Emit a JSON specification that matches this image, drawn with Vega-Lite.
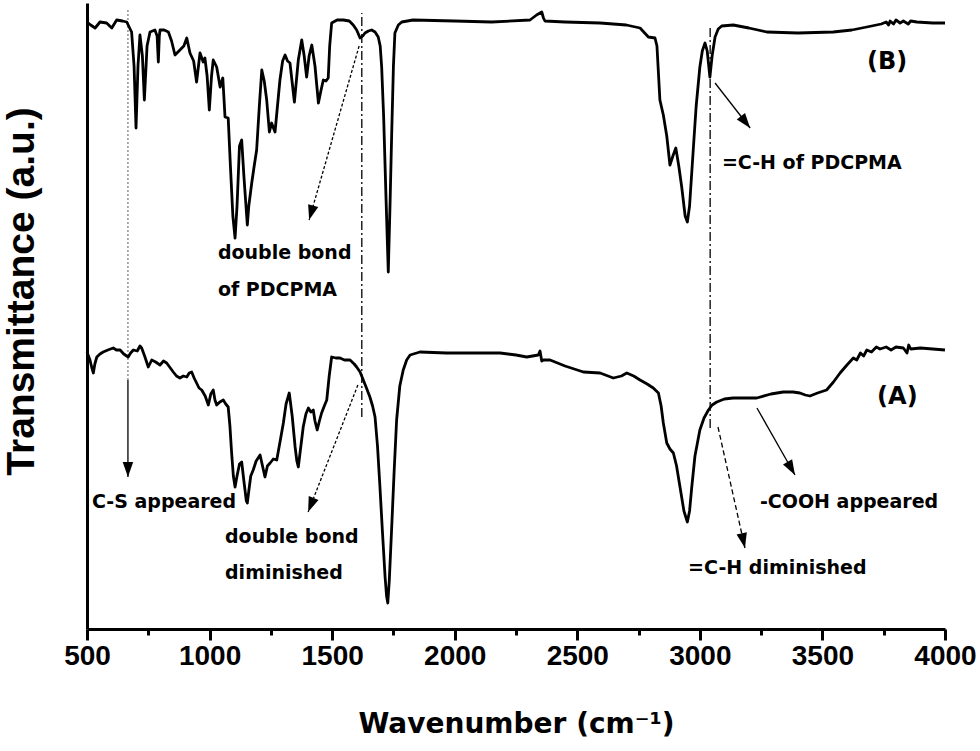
{
  "$schema": "https://vega.github.io/schema/vega-lite/v6.json",
  "width": 858,
  "height": 626,
  "autosize": {"type": "none"},
  "padding": {"left": 87, "top": 3, "right": 35, "bottom": 122},
  "background": "white",
  "config": {"view": {"stroke": null}, "axis": {"grid": false}},
  "resolve": {"axis": {"x": "independent"}},
  "datasets": {
    "spectra": [
      {"series":"B","wn":500,"tr":604},{"series":"B","wn":515,"tr":601},{"series":"B","wn":533,"tr":598},{"series":"B","wn":553,"tr":604},{"series":"B","wn":580,"tr":603},{"series":"B","wn":601,"tr":598},{"series":"B","wn":621,"tr":606},{"series":"B","wn":645,"tr":605},{"series":"B","wn":662,"tr":604},{"series":"B","wn":682,"tr":594},{"series":"B","wn":692,"tr":560},{"series":"B","wn":700,"tr":498},{"series":"B","wn":708,"tr":560},{"series":"B","wn":716,"tr":591},{"series":"B","wn":726,"tr":570},{"series":"B","wn":734,"tr":526},{"series":"B","wn":745,"tr":580},{"series":"B","wn":757,"tr":594},{"series":"B","wn":777,"tr":596},{"series":"B","wn":786,"tr":590},{"series":"B","wn":791,"tr":564},{"series":"B","wn":795,"tr":590},{"series":"B","wn":798,"tr":596},{"series":"B","wn":815,"tr":596},{"series":"B","wn":832,"tr":594},{"series":"B","wn":845,"tr":585},{"series":"B","wn":859,"tr":571},{"series":"B","wn":879,"tr":576},{"series":"B","wn":895,"tr":580},{"series":"B","wn":907,"tr":588},{"series":"B","wn":920,"tr":573},{"series":"B","wn":935,"tr":565},{"series":"B","wn":947,"tr":544},{"series":"B","wn":961,"tr":573},{"series":"B","wn":974,"tr":564},{"series":"B","wn":981,"tr":568},{"series":"B","wn":990,"tr":550},{"series":"B","wn":999,"tr":516},{"series":"B","wn":1008,"tr":550},{"series":"B","wn":1015,"tr":566},{"series":"B","wn":1029,"tr":559},{"series":"B","wn":1043,"tr":539},{"series":"B","wn":1054,"tr":548},{"series":"B","wn":1063,"tr":509},{"series":"B","wn":1076,"tr":508},{"series":"B","wn":1085,"tr":460},{"series":"B","wn":1095,"tr":410},{"series":"B","wn":1104,"tr":388},{"series":"B","wn":1112,"tr":420},{"series":"B","wn":1122,"tr":480},{"series":"B","wn":1131,"tr":486},{"series":"B","wn":1140,"tr":450},{"series":"B","wn":1154,"tr":401},{"series":"B","wn":1160,"tr":420},{"series":"B","wn":1172,"tr":443},{"series":"B","wn":1182,"tr":460},{"series":"B","wn":1192,"tr":476},{"series":"B","wn":1203,"tr":520},{"series":"B","wn":1213,"tr":556},{"series":"B","wn":1223,"tr":545},{"series":"B","wn":1233,"tr":526},{"series":"B","wn":1244,"tr":494},{"series":"B","wn":1253,"tr":503},{"series":"B","wn":1267,"tr":494},{"series":"B","wn":1277,"tr":520},{"series":"B","wn":1287,"tr":546},{"series":"B","wn":1298,"tr":565},{"series":"B","wn":1308,"tr":571},{"series":"B","wn":1318,"tr":565},{"series":"B","wn":1328,"tr":563},{"series":"B","wn":1346,"tr":524},{"series":"B","wn":1362,"tr":566},{"series":"B","wn":1376,"tr":586},{"series":"B","wn":1386,"tr":570},{"series":"B","wn":1396,"tr":549},{"series":"B","wn":1406,"tr":570},{"series":"B","wn":1417,"tr":581},{"series":"B","wn":1430,"tr":560},{"series":"B","wn":1444,"tr":523},{"series":"B","wn":1454,"tr":535},{"series":"B","wn":1464,"tr":546},{"series":"B","wn":1475,"tr":545},{"series":"B","wn":1484,"tr":548},{"series":"B","wn":1490,"tr":580},{"series":"B","wn":1498,"tr":603},{"series":"B","wn":1520,"tr":606},{"series":"B","wn":1546,"tr":606},{"series":"B","wn":1570,"tr":605},{"series":"B","wn":1586,"tr":601},{"series":"B","wn":1600,"tr":596},{"series":"B","wn":1614,"tr":588},{"series":"B","wn":1625,"tr":590},{"series":"B","wn":1634,"tr":593},{"series":"B","wn":1648,"tr":595},{"series":"B","wn":1661,"tr":596},{"series":"B","wn":1675,"tr":594},{"series":"B","wn":1688,"tr":589},{"series":"B","wn":1696,"tr":580},{"series":"B","wn":1702,"tr":559},{"series":"B","wn":1710,"tr":510},{"series":"B","wn":1720,"tr":426},{"series":"B","wn":1729,"tr":354},{"series":"B","wn":1736,"tr":420},{"series":"B","wn":1743,"tr":493},{"series":"B","wn":1750,"tr":560},{"series":"B","wn":1756,"tr":593},{"series":"B","wn":1770,"tr":601},{"series":"B","wn":1784,"tr":604},{"series":"B","wn":1830,"tr":606},{"series":"B","wn":2000,"tr":605},{"series":"B","wn":2150,"tr":604},{"series":"B","wn":2307,"tr":606},{"series":"B","wn":2334,"tr":611},{"series":"B","wn":2355,"tr":614},{"series":"B","wn":2362,"tr":608},{"series":"B","wn":2368,"tr":605},{"series":"B","wn":2450,"tr":604},{"series":"B","wn":2593,"tr":603},{"series":"B","wn":2700,"tr":601},{"series":"B","wn":2756,"tr":598},{"series":"B","wn":2790,"tr":589},{"series":"B","wn":2817,"tr":588},{"series":"B","wn":2825,"tr":580},{"series":"B","wn":2837,"tr":526},{"series":"B","wn":2851,"tr":511},{"series":"B","wn":2865,"tr":490},{"series":"B","wn":2878,"tr":461},{"series":"B","wn":2890,"tr":470},{"series":"B","wn":2902,"tr":478},{"series":"B","wn":2914,"tr":460},{"series":"B","wn":2926,"tr":439},{"series":"B","wn":2940,"tr":410},{"series":"B","wn":2949,"tr":404},{"series":"B","wn":2958,"tr":420},{"series":"B","wn":2973,"tr":476},{"series":"B","wn":2985,"tr":520},{"series":"B","wn":3000,"tr":559},{"series":"B","wn":3010,"tr":575},{"series":"B","wn":3021,"tr":583},{"series":"B","wn":3030,"tr":575},{"series":"B","wn":3041,"tr":549},{"series":"B","wn":3050,"tr":570},{"series":"B","wn":3062,"tr":589},{"series":"B","wn":3075,"tr":597},{"series":"B","wn":3089,"tr":600},{"series":"B","wn":3136,"tr":601},{"series":"B","wn":3200,"tr":598},{"series":"B","wn":3273,"tr":594},{"series":"B","wn":3400,"tr":593},{"series":"B","wn":3544,"tr":594},{"series":"B","wn":3620,"tr":596},{"series":"B","wn":3681,"tr":599},{"series":"B","wn":3740,"tr":602},{"series":"B","wn":3760,"tr":604},{"series":"B","wn":3770,"tr":601},{"series":"B","wn":3776,"tr":605},{"series":"B","wn":3790,"tr":602},{"series":"B","wn":3800,"tr":606},{"series":"B","wn":3817,"tr":603},{"series":"B","wn":3830,"tr":605},{"series":"B","wn":3850,"tr":602},{"series":"B","wn":3860,"tr":605},{"series":"B","wn":3885,"tr":604},{"series":"B","wn":3950,"tr":603},{"series":"B","wn":4000,"tr":603},
      {"series":"A","wn":500,"tr":274},{"series":"A","wn":512,"tr":266},{"series":"A","wn":520,"tr":258},{"series":"A","wn":526,"tr":253},{"series":"A","wn":532,"tr":262},{"series":"A","wn":540,"tr":269},{"series":"A","wn":553,"tr":272},{"series":"A","wn":566,"tr":274},{"series":"A","wn":585,"tr":276},{"series":"A","wn":607,"tr":278},{"series":"A","wn":620,"tr":276},{"series":"A","wn":635,"tr":276},{"series":"A","wn":650,"tr":272},{"series":"A","wn":668,"tr":269},{"series":"A","wn":678,"tr":273},{"series":"A","wn":689,"tr":276},{"series":"A","wn":705,"tr":275},{"series":"A","wn":716,"tr":280},{"series":"A","wn":723,"tr":278},{"series":"A","wn":735,"tr":270},{"series":"A","wn":750,"tr":259},{"series":"A","wn":764,"tr":266},{"series":"A","wn":780,"tr":264},{"series":"A","wn":798,"tr":261},{"series":"A","wn":812,"tr":265},{"series":"A","wn":825,"tr":263},{"series":"A","wn":840,"tr":258},{"series":"A","wn":852,"tr":254},{"series":"A","wn":865,"tr":250},{"series":"A","wn":879,"tr":248},{"series":"A","wn":893,"tr":250},{"series":"A","wn":907,"tr":249},{"series":"A","wn":917,"tr":253},{"series":"A","wn":927,"tr":254},{"series":"A","wn":937,"tr":248},{"series":"A","wn":947,"tr":243},{"series":"A","wn":957,"tr":238},{"series":"A","wn":968,"tr":236},{"series":"A","wn":982,"tr":230},{"series":"A","wn":995,"tr":221},{"series":"A","wn":1005,"tr":232},{"series":"A","wn":1015,"tr":236},{"series":"A","wn":1022,"tr":226},{"series":"A","wn":1029,"tr":221},{"series":"A","wn":1042,"tr":224},{"series":"A","wn":1056,"tr":226},{"series":"A","wn":1066,"tr":222},{"series":"A","wn":1076,"tr":219},{"series":"A","wn":1083,"tr":200},{"series":"A","wn":1090,"tr":173},{"series":"A","wn":1097,"tr":150},{"series":"A","wn":1104,"tr":139},{"series":"A","wn":1112,"tr":150},{"series":"A","wn":1122,"tr":162},{"series":"A","wn":1131,"tr":164},{"series":"A","wn":1140,"tr":145},{"series":"A","wn":1150,"tr":125},{"series":"A","wn":1154,"tr":123},{"series":"A","wn":1160,"tr":135},{"series":"A","wn":1168,"tr":150},{"series":"A","wn":1178,"tr":156},{"series":"A","wn":1190,"tr":165},{"series":"A","wn":1206,"tr":171},{"series":"A","wn":1216,"tr":160},{"series":"A","wn":1226,"tr":149},{"series":"A","wn":1236,"tr":160},{"series":"A","wn":1247,"tr":163},{"series":"A","wn":1260,"tr":167},{"series":"A","wn":1274,"tr":166},{"series":"A","wn":1288,"tr":185},{"series":"A","wn":1301,"tr":203},{"series":"A","wn":1312,"tr":222},{"series":"A","wn":1325,"tr":233},{"series":"A","wn":1337,"tr":210},{"series":"A","wn":1349,"tr":179},{"series":"A","wn":1356,"tr":165},{"series":"A","wn":1362,"tr":159},{"series":"A","wn":1370,"tr":175},{"series":"A","wn":1382,"tr":199},{"series":"A","wn":1393,"tr":212},{"series":"A","wn":1403,"tr":218},{"series":"A","wn":1413,"tr":214},{"series":"A","wn":1423,"tr":216},{"series":"A","wn":1430,"tr":205},{"series":"A","wn":1439,"tr":196},{"series":"A","wn":1448,"tr":205},{"series":"A","wn":1457,"tr":213},{"series":"A","wn":1468,"tr":220},{"series":"A","wn":1478,"tr":226},{"series":"A","wn":1488,"tr":250},{"series":"A","wn":1498,"tr":269},{"series":"A","wn":1515,"tr":268},{"series":"A","wn":1532,"tr":268},{"series":"A","wn":1550,"tr":266},{"series":"A","wn":1573,"tr":266},{"series":"A","wn":1590,"tr":262},{"series":"A","wn":1600,"tr":259},{"series":"A","wn":1614,"tr":254},{"series":"A","wn":1627,"tr":246},{"series":"A","wn":1640,"tr":238},{"series":"A","wn":1654,"tr":229},{"series":"A","wn":1665,"tr":220},{"series":"A","wn":1675,"tr":209},{"series":"A","wn":1685,"tr":180},{"series":"A","wn":1695,"tr":139},{"series":"A","wn":1705,"tr":95},{"series":"A","wn":1716,"tr":49},{"series":"A","wn":1722,"tr":30},{"series":"A","wn":1727,"tr":23},{"series":"A","wn":1733,"tr":45},{"series":"A","wn":1743,"tr":99},{"series":"A","wn":1753,"tr":155},{"series":"A","wn":1763,"tr":206},{"series":"A","wn":1776,"tr":240},{"series":"A","wn":1790,"tr":256},{"series":"A","wn":1804,"tr":266},{"series":"A","wn":1818,"tr":271},{"series":"A","wn":1858,"tr":274},{"series":"A","wn":1967,"tr":273},{"series":"A","wn":2100,"tr":273},{"series":"A","wn":2185,"tr":273},{"series":"A","wn":2250,"tr":271},{"series":"A","wn":2294,"tr":269},{"series":"A","wn":2341,"tr":271},{"series":"A","wn":2348,"tr":275},{"series":"A","wn":2355,"tr":265},{"series":"A","wn":2362,"tr":266},{"series":"A","wn":2389,"tr":266},{"series":"A","wn":2450,"tr":260},{"series":"A","wn":2525,"tr":254},{"series":"A","wn":2593,"tr":253},{"series":"A","wn":2647,"tr":248},{"series":"A","wn":2680,"tr":250},{"series":"A","wn":2702,"tr":253},{"series":"A","wn":2730,"tr":250},{"series":"A","wn":2756,"tr":246},{"series":"A","wn":2785,"tr":242},{"series":"A","wn":2810,"tr":238},{"series":"A","wn":2831,"tr":233},{"series":"A","wn":2842,"tr":220},{"series":"A","wn":2851,"tr":203},{"series":"A","wn":2865,"tr":183},{"series":"A","wn":2878,"tr":177},{"series":"A","wn":2892,"tr":173},{"series":"A","wn":2905,"tr":160},{"series":"A","wn":2919,"tr":139},{"series":"A","wn":2935,"tr":115},{"series":"A","wn":2949,"tr":104},{"series":"A","wn":2958,"tr":115},{"series":"A","wn":2967,"tr":139},{"series":"A","wn":2980,"tr":170},{"series":"A","wn":3000,"tr":196},{"series":"A","wn":3017,"tr":208},{"series":"A","wn":3035,"tr":216},{"series":"A","wn":3050,"tr":221},{"series":"A","wn":3069,"tr":224},{"series":"A","wn":3100,"tr":227},{"series":"A","wn":3136,"tr":228},{"series":"A","wn":3190,"tr":228},{"series":"A","wn":3232,"tr":228},{"series":"A","wn":3290,"tr":232},{"series":"A","wn":3340,"tr":234},{"series":"A","wn":3380,"tr":234},{"series":"A","wn":3408,"tr":233},{"series":"A","wn":3430,"tr":231},{"series":"A","wn":3449,"tr":230},{"series":"A","wn":3480,"tr":233},{"series":"A","wn":3517,"tr":236},{"series":"A","wn":3545,"tr":244},{"series":"A","wn":3572,"tr":253},{"series":"A","wn":3600,"tr":261},{"series":"A","wn":3626,"tr":268},{"series":"A","wn":3640,"tr":266},{"series":"A","wn":3655,"tr":273},{"series":"A","wn":3668,"tr":270},{"series":"A","wn":3681,"tr":276},{"series":"A","wn":3700,"tr":274},{"series":"A","wn":3720,"tr":279},{"series":"A","wn":3735,"tr":277},{"series":"A","wn":3760,"tr":279},{"series":"A","wn":3780,"tr":276},{"series":"A","wn":3800,"tr":279},{"series":"A","wn":3830,"tr":278},{"series":"A","wn":3845,"tr":273},{"series":"A","wn":3852,"tr":281},{"series":"A","wn":3860,"tr":277},{"series":"A","wn":3900,"tr":278},{"series":"A","wn":3950,"tr":277},{"series":"A","wn":4000,"tr":276}
    ],
    "vlines": [
      {"kind":"dot","wn":667,"tr":246,"tr2":618},
      {"kind":"dashdot","wn":1621,"tr":209,"tr2":613},
      {"kind":"dashdot","wn":3042,"tr":198,"tr2":599}
    ],
    "arrows": [
      {"id":"b1","kind":"dotted","wn":1610,"tr":580,"wn2":1406,"tr2":406},
      {"id":"a1","kind":"dotted","wn":1605,"tr":241,"wn2":1402,"tr2":114},
      {"id":"b2","kind":"solid","wn":3062,"tr":543,"wn2":3205,"tr2":498},
      {"id":"a2","kind":"solid","wn":3233,"tr":218,"wn2":3388,"tr2":151},
      {"id":"a3","kind":"dashed","wn":3074,"tr":199,"wn2":3184,"tr2":78},
      {"id":"a0","kind":"solid","wn":667,"tr":246,"wn2":667,"tr2":149}
    ],
    "notes": [
      {"label":"double bond","wn":1034,"tr":373},
      {"label":"of PDCPMA","wn":1034,"tr":336},
      {"label":"=C-H of PDCPMA","wn":3090,"tr":463},
      {"label":"C-S appeared","wn":520,"tr":124},
      {"label":"double bond","wn":1063,"tr":89},
      {"label":"diminished","wn":1063,"tr":53},
      {"label":"-COOH appeared","wn":3245,"tr":124},
      {"label":"=C-H diminished","wn":2952,"tr":58}
    ],
    "tags": [
      {"label":"(B)","wn":3682,"tr":564},
      {"label":"(A)","wn":3723,"tr":229}
    ]
  },
  "encoding": {
    "x": {
      "field": "wn", "type": "quantitative",
      "scale": {"domain": [500, 4000], "nice": false, "zero": false},
      "axis": null
    },
    "y": {
      "field": "tr", "type": "quantitative",
      "scale": {"domain": [-3, 623], "nice": false, "zero": false},
      "axis": {
        "ticks": false, "labels": false,
        "domainWidth": 3, "domainColor": "black",
        "title": "Transmittance (a.u.)",
        "titleFont": "Liberation Sans", "titleFontSize": 39, "titleFontWeight": "bold", "titleColor": "black",
        "titleX": -46, "titleY": 288, "titleAngle": -90, "titleBaseline": "bottom", "titleAlign": "center"
      }
    }
  },
  "layer": [
    {
      "data": {"name": "vlines"},
      "transform": [{"filter": "datum.kind === 'dot'"}],
      "mark": {"type": "rule", "color": "#777777", "strokeWidth": 1.2, "strokeDash": [2, 2]},
      "encoding": {
        "x": {
          "field": "wn", "type": "quantitative",
          "scale": {"domain": [500, 4000], "nice": false, "zero": false},
          "axis": {
            "orient": "bottom",
            "values": [750, 1250, 1750, 2250, 2750, 3250, 3750],
            "labels": false, "domain": false, "title": null,
            "ticks": true, "tickSize": 6, "tickWidth": 3, "tickColor": "black"
          }
        },
        "y2": {"field": "tr2"}
      }
    },
    {
      "data": {"name": "vlines"},
      "transform": [{"filter": "datum.kind === 'dashdot'"}],
      "mark": {"type": "rule", "color": "black", "strokeWidth": 1.3, "strokeDash": [9, 3, 2, 3]},
      "encoding": {"y2": {"field": "tr2"}}
    },
    {
      "data": {"name": "spectra"},
      "mark": {"type": "line", "color": "black", "strokeWidth": 2.8, "strokeJoin": "round"},
      "encoding": {
        "x": {
          "field": "wn", "type": "quantitative",
          "scale": {"domain": [500, 4000], "nice": false, "zero": false},
          "axis": {
            "orient": "bottom",
            "values": [500, 1000, 1500, 2000, 2500, 3000, 3500, 4000],
            "format": "d",
            "ticks": true, "tickSize": 11, "tickWidth": 3, "tickColor": "black",
            "domainWidth": 3, "domainColor": "black",
            "labelFont": "Liberation Sans", "labelFontSize": 28, "labelFontWeight": "bold", "labelColor": "black",
            "labelPadding": 2, "labelFlush": false, "labelOverlap": false,
            "title": "Wavenumber (cm⁻¹)",
            "titleFont": "DejaVu Sans", "titleFontSize": 28, "titleFontWeight": "bold", "titleColor": "black",
            "titleY": 103, "titleBaseline": "alphabetic"
          }
        },
        "detail": {"field": "series"}
      }
    },
    {
      "data": {"name": "arrows"},
      "transform": [{"filter": "datum.kind === 'solid'"}],
      "mark": {"type": "rule", "color": "black", "strokeWidth": 1.3},
      "encoding": {"x2": {"field": "wn2"}, "y2": {"field": "tr2"}}
    },
    {
      "data": {"name": "arrows"},
      "transform": [{"filter": "datum.kind === 'dotted'"}],
      "mark": {"type": "rule", "color": "black", "strokeWidth": 1.3, "strokeDash": [3, 2]},
      "encoding": {"x2": {"field": "wn2"}, "y2": {"field": "tr2"}}
    },
    {
      "data": {"name": "arrows"},
      "transform": [{"filter": "datum.kind === 'dashed'"}],
      "mark": {"type": "rule", "color": "black", "strokeWidth": 1.3, "strokeDash": [5, 3]},
      "encoding": {"x2": {"field": "wn2"}, "y2": {"field": "tr2"}}
    },
    {
      "data": {"name": "arrows"},
      "transform": [{"filter": "datum.id === 'b1'"}],
      "mark": {"type": "point", "shape": "M0,0L-0.35,-1L0.35,-1Z", "size": 900, "filled": true, "color": "black", "opacity": 1, "angle": 15.8},
      "encoding": {"x": {"field": "wn2", "type": "quantitative", "axis": null}, "y": {"field": "tr2", "type": "quantitative"}}
    },
    {
      "data": {"name": "arrows"},
      "transform": [{"filter": "datum.id === 'a1'"}],
      "mark": {"type": "point", "shape": "M0,0L-0.35,-1L0.35,-1Z", "size": 900, "filled": true, "color": "black", "opacity": 1, "angle": 21.5},
      "encoding": {"x": {"field": "wn2", "type": "quantitative", "axis": null}, "y": {"field": "tr2", "type": "quantitative"}}
    },
    {
      "data": {"name": "arrows"},
      "transform": [{"filter": "datum.id === 'b2'"}],
      "mark": {"type": "point", "shape": "M0,0L-0.35,-1L0.35,-1Z", "size": 900, "filled": true, "color": "black", "opacity": 1, "angle": -37.9},
      "encoding": {"x": {"field": "wn2", "type": "quantitative", "axis": null}, "y": {"field": "tr2", "type": "quantitative"}}
    },
    {
      "data": {"name": "arrows"},
      "transform": [{"filter": "datum.id === 'a2'"}],
      "mark": {"type": "point", "shape": "M0,0L-0.35,-1L0.35,-1Z", "size": 900, "filled": true, "color": "black", "opacity": 1, "angle": -29.6},
      "encoding": {"x": {"field": "wn2", "type": "quantitative", "axis": null}, "y": {"field": "tr2", "type": "quantitative"}}
    },
    {
      "data": {"name": "arrows"},
      "transform": [{"filter": "datum.id === 'a3'"}],
      "mark": {"type": "point", "shape": "M0,0L-0.35,-1L0.35,-1Z", "size": 900, "filled": true, "color": "black", "opacity": 1, "angle": -12.6},
      "encoding": {"x": {"field": "wn2", "type": "quantitative", "axis": null}, "y": {"field": "tr2", "type": "quantitative"}}
    },
    {
      "data": {"name": "arrows"},
      "transform": [{"filter": "datum.id === 'a0'"}],
      "mark": {"type": "point", "shape": "M0,0L-0.35,-1L0.35,-1Z", "size": 900, "filled": true, "color": "black", "opacity": 1, "angle": 0},
      "encoding": {"x": {"field": "wn2", "type": "quantitative", "axis": null}, "y": {"field": "tr2", "type": "quantitative"}}
    },
    {
      "data": {"name": "notes"},
      "mark": {"type": "text", "font": "DejaVu Sans", "fontSize": 19, "fontWeight": "bold", "color": "black", "align": "left", "baseline": "middle"},
      "encoding": {"text": {"field": "label"}}
    },
    {
      "data": {"name": "tags"},
      "mark": {"type": "text", "font": "DejaVu Sans", "fontSize": 24, "fontWeight": "bold", "color": "black", "align": "left", "baseline": "middle"},
      "encoding": {"text": {"field": "label"}}
    }
  ]
}
